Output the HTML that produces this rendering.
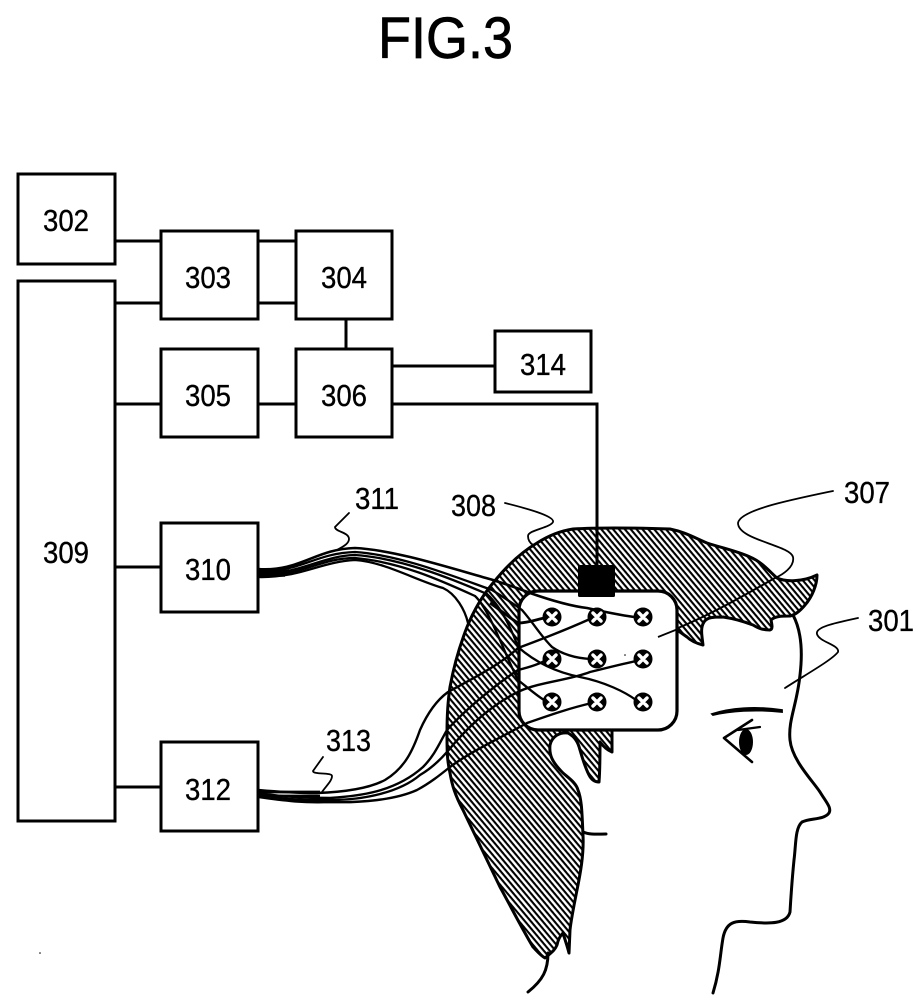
<!DOCTYPE html>
<html><head><meta charset="utf-8"><style>
html,body{margin:0;padding:0;background:#fff}
svg{display:block}
text{font-family:"Liberation Sans",sans-serif;fill:#000;stroke:#000;stroke-width:.35px}
</style></head><body>
<svg width="921" height="1004" viewBox="0 0 921 1004" xmlns="http://www.w3.org/2000/svg">
<defs>
<pattern id="h" width="4.5" height="4.5" patternUnits="userSpaceOnUse" patternTransform="rotate(50)">
<rect width="4.5" height="2.1" fill="#000"/>
</pattern>
</defs>
<rect width="921" height="1004" fill="#fff"/>
<text x="378" y="58" font-size="58" textLength="135" lengthAdjust="spacingAndGlyphs" style="stroke-width:.7px">FIG.3</text>

<g fill="none" stroke="#000" stroke-width="3">
<rect x="18" y="174" width="97" height="90"/>
<rect x="161" y="231" width="97" height="88"/>
<rect x="296" y="231" width="96" height="88"/>
<rect x="161" y="349" width="97" height="88"/>
<rect x="296" y="349" width="96" height="88"/>
<rect x="18" y="281" width="97" height="540"/>
<rect x="161" y="523" width="97" height="89"/>
<rect x="161" y="742" width="97" height="89"/>
<rect x="495" y="331" width="96" height="61"/>
<path d="M115 241H161M115 303H161M258 241H296M258 303H296M346 319V349M115 404H161M258 404H296M392 366H495M392 404H597V566M115 567H161M115 787H161"/>
</g>

<g font-size="31">
<text x="43" y="231" textLength="46" lengthAdjust="spacingAndGlyphs">302</text>
<text x="185" y="288" textLength="46" lengthAdjust="spacingAndGlyphs">303</text>
<text x="321" y="288" textLength="46" lengthAdjust="spacingAndGlyphs">304</text>
<text x="185" y="406" textLength="46" lengthAdjust="spacingAndGlyphs">305</text>
<text x="321" y="406" textLength="46" lengthAdjust="spacingAndGlyphs">306</text>
<text x="43" y="563" textLength="46" lengthAdjust="spacingAndGlyphs">309</text>
<text x="185" y="580" textLength="46" lengthAdjust="spacingAndGlyphs">310</text>
<text x="185" y="800" textLength="46" lengthAdjust="spacingAndGlyphs">312</text>
<text x="520" y="375" textLength="46" lengthAdjust="spacingAndGlyphs">314</text>
<text x="355" y="509" textLength="44" lengthAdjust="spacingAndGlyphs">311</text>
<text x="451" y="516" textLength="45" lengthAdjust="spacingAndGlyphs">308</text>
<text x="326" y="751" textLength="45" lengthAdjust="spacingAndGlyphs">313</text>
<text x="844" y="503" textLength="46" lengthAdjust="spacingAndGlyphs">307</text>
<text x="868" y="631" textLength="46" lengthAdjust="spacingAndGlyphs">301</text>
</g>

<!-- face -->
<g fill="none" stroke="#000" stroke-width="3" stroke-linecap="round">
<path d="M793 615C801 630 803 650 800 675C797 705 788 720 790 740C792 760 812 780 820 792C826 802 832 808 829 813C824 820 810 818 802 822C795 828 796 845 794 860C792 880 791 895 790 912C787 924 770 924 750 922C735 920 726 922 723 938C720 955 720 970 713 993"/>
<path d="M583 832C590 835 598 834 606 834"/>
<path d="M548 953C548 970 543 980 528 992"/>
<path d="M724 738L752 720M724 738L752 762" stroke-width="2.6"/>
<path d="M738 730L760 727" stroke-width="2.2"/>
<path d="M505 503C525 508 555 516 553 522C550 528 528 530 528 536C528 540 530 543 533 545" stroke-width="1.8"/>
<path d="M833 491C790 500 740 510 738 523C738 540 790 545 793 557C795 567 782 575 775 578" stroke-width="1.8"/>
<path d="M858 618C835 623 815 627 817 634C819 642 840 645 838 652C832 660 805 675 785 688" stroke-width="1.8"/>
<path d="M349 513L335 527C335 532 349 532 349 539C349 544 342 547 337 550" stroke-width="1.8"/>
<path d="M323 757L313 771C313 775 332 772 332 776C332 781 326 786 322 792" stroke-width="1.8"/>
</g>
<ellipse cx="746" cy="742" rx="7" ry="13" fill="#000"/>
<path d="M712 714C730 708 755 706 782 710L782 712C755 709 730 711 713 715Z" fill="#000" stroke="#000" stroke-width="1.8"/>

<!-- hair -->
<path d="M573 529C605 527 640 528 670 529C685 532 695 538 707 543C722 548 737 551 750 557C762 562 770 572 777 578C785 582 803 582 817 575C817 585 812 597 805 605C800 611 795 615 790 616C782 616 775 616 771 620C772 625 773 629 770 630C762 630 758 628 753 625C740 620 730 618 723 617C714 617 707 617 704 622C700 628 702 636 703 645C695 643 690 640 687 637L670 625L640 700L612 715L612 752C607 750 603 746 600 742C600 755 600 770 599 782C594 782 591 779 589 775C585 767 582 757 580 750C578 742 575 737 568 733C560 732 552 736 550 745C549 755 552 762 563 773C570 779 576 783 578 790C582 800 582 815 583 835C584 855 580 875 577 890C574 905 571 920 570 930L569 953C567 945 565 940 563 933C560 936 558 940 557 945C555 950 552 952 545 958C540 955 536 950 533 947C520 925 510 905 500 887C487 860 475 835 463 810C455 795 452 785 450 773C447 760 447 750 447 733C447 715 448 700 450 687C454 665 460 645 467 627C474 610 483 595 493 583C505 568 520 553 537 543C548 536 560 531 573 529Z" fill="url(#h)" stroke="#000" stroke-width="3" stroke-linejoin="round"/>

<!-- panel -->
<rect x="519" y="591" width="158" height="139" rx="19" ry="19" fill="#fff" stroke="#000" stroke-width="3.2"/>
<path d="M658 637L678 629" fill="none" stroke="#000" stroke-width="1.8"/>
<path d="M678 628C710 615 745 595 775 578" fill="none" stroke="#000" stroke-width="2"/>
<rect x="578" y="565" width="37" height="32" rx="1.5" fill="#000"/>

<!-- cables 311 -->
<g fill="none" stroke="#000" stroke-width="2.3">
<path d="M258 569C300 572 315 549 355 548C395 550 450 568 493 580C505 584 518 588 530 593C550 600 570 606 587 608C605 612 620 615 634 617" stroke-width="2.6"/>
<path d="M258 571C300 573 315 553 355 552C400 555 450 575 492 590C505 598 515 605 522 610C535 625 540 635 552 647C562 654 575 658 590 659"/>
<path d="M258 573C300 575 320 556 355 555C400 558 450 578 487 594C500 606 510 625 518 647C535 662 555 672 580 677C605 682 625 692 636 700"/>
<path d="M258 575C300 577 320 558 355 558C400 562 440 580 475 596C490 610 505 655 518 680C528 688 536 695 544 700"/>
<path d="M258 577C300 578 320 562 355 560C385 562 415 580 443 588C456 594 465 610 468 623"/>
<path d="M490 603C500 610 510 618 518 623C528 623 535 620 544 618" stroke-width="2.8"/>
<path d="M258 571H285M258 575H285" stroke-width="3.4"/>
</g>
<!-- cables 313 -->
<g fill="none" stroke="#000" stroke-width="2.4">
<path d="M258 790C280 792 300 793 317 793C345 792 370 788 385 780C405 768 413 750 420 730C428 712 437 700 448 692C470 680 500 665 518 648C545 638 570 628 590 619"/>
<path d="M258 793C285 797 305 798 330 798C360 796 395 792 423 767C435 755 440 742 447 730C465 710 495 685 518 670C530 667 540 664 546 660"/>
<path d="M258 795C285 799 305 801 330 800C365 800 400 792 420 775C432 768 440 760 447 752C465 730 490 705 520 691C540 682 570 680 590 672C610 667 622 664 636 661"/>
<path d="M258 797C285 801 305 803 330 802C360 803 395 800 417 790C430 783 440 775 450 767C470 752 500 738 527 723C550 715 570 708 592 703"/>
<path d="M258 792H320M258 796H320" stroke-width="2.8"/>
</g>

<!-- electrodes -->
<g fill="#000">
<circle cx="552" cy="617" r="9.5"/><circle cx="597" cy="617" r="9.5"/><circle cx="643" cy="617" r="9.5"/>
<circle cx="552" cy="659" r="9.5"/><circle cx="597" cy="659" r="9.5"/><circle cx="643" cy="659" r="9.5"/>
<circle cx="552" cy="702" r="9.5"/><circle cx="597" cy="702" r="9.5"/><circle cx="643" cy="702" r="9.5"/>
</g>
<g stroke="#fff" stroke-width="3.4" stroke-linecap="round">
<path d="M548 613L556 621M556 613L548 621M593 613L601 621M601 613L593 621M639 613L647 621M647 613L639 621"/>
<path d="M548 655L556 663M556 655L548 663M593 655L601 663M601 655L593 663M639 655L647 663M647 655L639 663"/>
<path d="M548 698L556 706M556 698L548 706M593 698L601 706M601 698L593 706M639 698L647 706M647 698L639 706"/>
</g>
<circle cx="40" cy="953" r="0.8" fill="#000"/>
<circle cx="625" cy="655" r="0.8" fill="#000"/>
</svg>
</body></html>
